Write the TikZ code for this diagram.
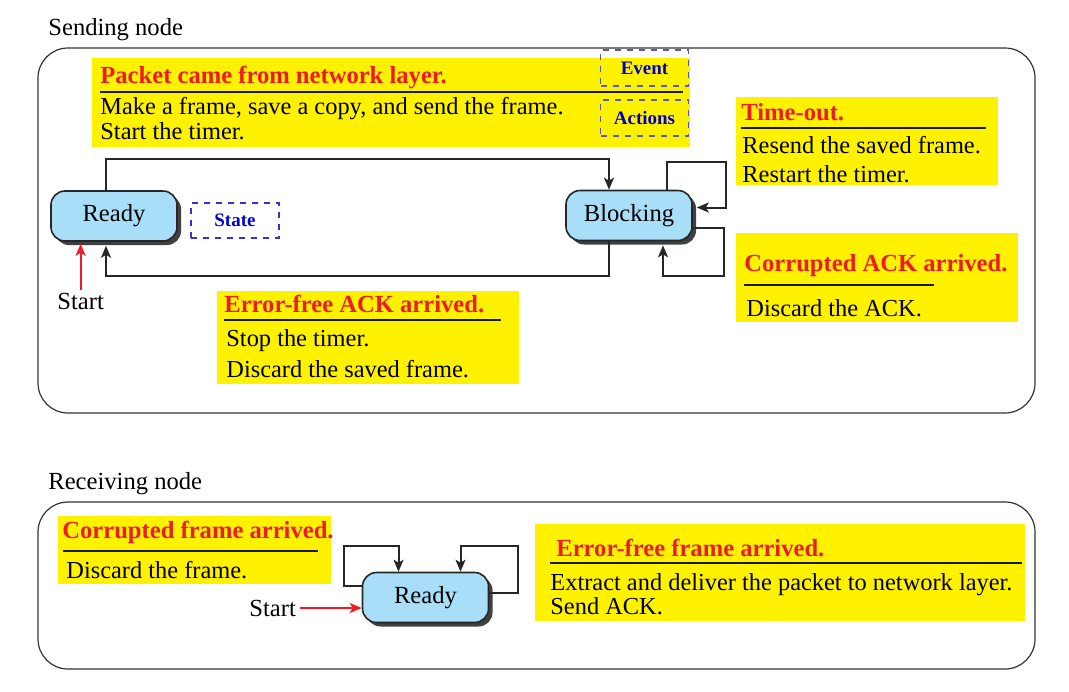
\documentclass[tikz,border=0pt]{standalone}
\usepackage{fontspec}
\setmainfont{Liberation Serif}
\usetikzlibrary{arrows.meta,positioning,shadows}
\definecolor{evtred}{HTML}{ED1C24}
\definecolor{notepad}{HTML}{FFF200}
\definecolor{statefill}{HTML}{A8DEF8}
\definecolor{tagblue}{HTML}{0000C8}
\definecolor{tagline}{HTML}{5A5AA8}

\begin{document}
\begin{tikzpicture}[
  x=0.5pt, y=-0.5pt,
  state/.style={rectangle, rounded corners=7pt, draw=black!85, line width=0.8pt,
    fill=statefill, minimum width=63pt, minimum height=25pt,
    font=\fontsize{12.3}{14}\selectfont,
    drop shadow={shadow xshift=2pt, shadow yshift=-2pt, fill=black!75, opacity=1}},
  note/.style 2 args={rectangle, fill=notepad, anchor=north west, inner sep=0pt,
    minimum width=#1, minimum height=#2},
  event/.style={anchor=west, inner sep=0pt, text=evtred,
    font=\fontsize{12.3}{14}\selectfont\bfseries},
  action/.style={anchor=west, inner sep=0pt, align=left,
    font=\fontsize{12.2}{#1}\selectfont},
  tag/.style={rectangle, draw=#1, dashed, line width=0.6pt, text=tagblue,
    minimum width=44pt, minimum height=18pt, font=\fontsize{9.5}{10}\selectfont\bfseries},
  panel/.style={rounded corners=15pt, draw=black!80, line width=0.6pt},
  underline/.style={draw=black!90, line width=1pt},
  flow/.style={draw=black!85, line width=1pt, -{Stealth[length=6pt,width=5pt,inset=1.5pt]}},
  startflow/.style={draw=evtred, line width=0.9pt, -{Stealth[length=6pt,width=5pt,inset=1.5pt]}},
  caption/.style={anchor=west, inner sep=0pt, font=\fontsize{12.3}{14}\selectfont}
]
\useasboundingbox (0,0) rectangle (1069,691);

\node[caption] (sendlbl) at (48,30) {Sending node};
\draw[panel] (38,48) rectangle (1035,413);

\node[note={299pt}{44.5pt}] (sendnote) at (92,58) {};
\node[event] (sendevt) at (100,77) {Packet came from network layer.};
\draw[underline] (100,92) -- (683,92);
\node[action=12.5pt] (sendact) at (100,119) {Make a frame, save a copy, and send the frame.\\Start the timer.};
\node[tag=tagline] (evttag) at (644.5,68) {Event};
\node[tag=tagline] (acttag) at (644.5,118) {Actions};

\node[state] (ready) at (114,216) {Ready};
\node[state] (blocking) at (629,215.5) {Blocking};
\node[tag=tagblue!80, minimum width=44pt, minimum height=17.5pt] (statetag) at (235,220.5) {State};

\node[note={131pt}{44pt}] (timenote) at (736,97) {};
\node[event] (timeevt) at (741,112) {Time-out.};
\draw[underline] (741,128) -- (986,128);
\node[action=14.5pt] (timeact) at (742,159.5) {Resend the saved frame.\\Restart the timer.};

\node[note={141pt}{44.5pt}] (cacknote) at (736,233) {};
\node[event] (cackevt) at (744,266) {Corrupted ACK arrived.};
\draw[underline] (744,285) -- (934,285);
\node[action=12.5pt] (cackact) at (746,308) {Discard the ACK.};

\node[note={151pt}{46.5pt}] (facknote) at (217,291) {};
\node[event] (fackevt) at (224,304) {Error-free ACK arrived.};
\draw[underline] (224,320) -- (501,320);
\node[action=15.5pt] (fackact) at (226,353.5) {Stop the timer.\\Discard the saved frame.};

\node[caption] (sendstart) at (57,301) {Start};
\draw[startflow] ([yshift=1pt]sendstart.north) -- ([yshift=-1pt]sendstart.north |- ready.south);
\draw[flow] ([xshift=-4pt]ready.north) -- ++(0,-31) -| ([xshift=-10pt]blocking.north);
\draw[flow] ([xshift=-10pt]blocking.south) -- ++(0,35) -| ([xshift=-4pt,yshift=-2pt]ready.south);
\draw[flow] ([xshift=19pt]blocking.north) -- ++(0,-28) -- ++(59,0) |- ([xshift=2pt,yshift=4pt]blocking.east);
\draw[flow] ([yshift=-6pt]blocking.east) -- ++(31,0) -- ++(0,48) -| ([xshift=17pt,yshift=-2pt]blocking.south);

\node[caption] (recvlbl) at (48,484) {Receiving node};
\draw[panel] (38,502) rectangle (1035,669);

\node[note={136.5pt}{34pt}] (cfrnote) at (58,516) {};
\node[event] (cfrevt) at (62,532) {Corrupted frame arrived.};
\draw[underline] (63,551) -- (318,551);
\node[action=12.5pt] (cfract) at (66,570) {Discard the frame.};

\node[note={245pt}{48.5pt}] (ffrnote) at (535,524) {};
\node[event] (ffrevt) at (556,548) {Error-free frame arrived.};
\draw[underline] (550,563) -- (1022,563);
\node[action=12pt] (ffract) at (550,594) {Extract and deliver the packet to network layer.\\Send ACK.};

\node[state] (rready) at (425.5,597.5) {Ready};
\node[caption] (recvstart) at (249,608) {Start};
\draw[startflow] ([xshift=2pt]recvstart.east) -- (recvstart.east -| rready.west);
\draw[flow] ([yshift=6pt]rready.west) -- ++(-18,0) -- ++(0,-40) -| ([xshift=-13.5pt]rready.north);
\draw[flow] ([yshift=2.5pt]rready.east) -- ++(29,0) -- ++(0,-47) -| ([xshift=17.5pt]rready.north);
\end{tikzpicture}
\end{document}
